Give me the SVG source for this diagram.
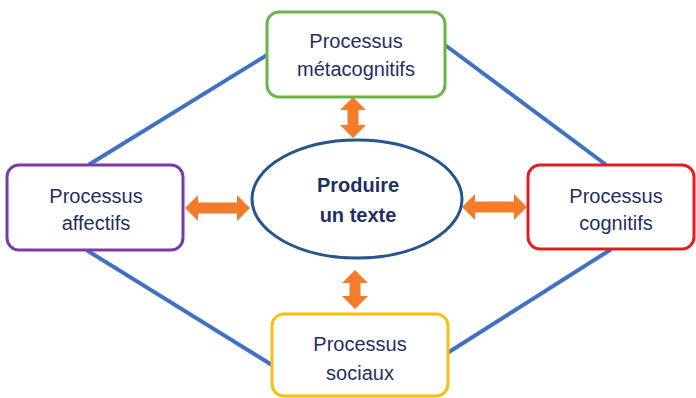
<svg xmlns="http://www.w3.org/2000/svg" width="696" height="398" viewBox="0 0 696 398">
  <style>
    .box { fill: #ffffff; stroke-width: 3; }
    .lbl { font-family: "Liberation Sans", Arial, sans-serif; font-size: 20px; fill: #1f3060; text-anchor: middle; }
    .bold { font-weight: bold; }
    .link { stroke: #3f72c4; stroke-width: 4; fill: none; stroke-linecap: round; }
    .dbl { fill: #f47b2a; }
  </style>
  <rect width="696" height="398" fill="#ffffff"/>

  <!-- connectors between the outer processes -->
  <g id="connectors">
    <line class="link" x1="90" y1="164" x2="267" y2="55"/>
    <line class="link" x1="445" y1="45" x2="605" y2="164"/>
    <line class="link" x1="88" y1="251" x2="272" y2="365"/>
    <line class="link" x1="610" y1="250" x2="449" y2="352"/>
    <!-- double-headed arrows to the centre -->
    <polygon class="dbl" points="353,97 366,110 358.5,110 358.5,125 366,125 353,138 340,125 347.5,125 347.5,110 340,110"/>
    <polygon class="dbl" points="355,270 368,283 360.5,283 360.5,296 368,296 355,309 342,296 349.5,296 349.5,283 342,283"/>
    <polygon class="dbl" points="185,208 198,195 198,202.5 237,202.5 237,195 250,208 237,221 237,213.5 198,213.5 198,221"/>
    <polygon class="dbl" points="462,207 475,194 475,201.5 514,201.5 514,194 527,207 514,220 514,212.5 475,212.5 475,220"/>
  </g>

  <g id="metacognitifs">
    <rect class="box" x="267" y="12" width="178" height="85" rx="12" stroke="#6bb547"/>
    <text class="lbl" x="356" y="48">Processus</text>
    <text class="lbl" x="356" y="76">métacognitifs</text>
  </g>

  <g id="affectifs">
    <rect class="box" x="7" y="165" width="176" height="85" rx="12" stroke="#7a3aa8"/>
    <text class="lbl" x="96" y="203">Processus</text>
    <text class="lbl" x="96" y="230">affectifs</text>
  </g>

  <g id="cognitifs">
    <rect class="box" x="528" y="165" width="166" height="84" rx="12" stroke="#e02020"/>
    <text class="lbl" x="616" y="203">Processus</text>
    <text class="lbl" x="616" y="230">cognitifs</text>
  </g>

  <g id="sociaux">
    <rect class="box" x="272" y="314" width="176" height="82" rx="12" stroke="#fbbd12"/>
    <text class="lbl" x="360" y="351">Processus</text>
    <text class="lbl" x="360" y="380">sociaux</text>
  </g>

  <g id="produire">
    <ellipse cx="357" cy="199" rx="105" ry="59" fill="#ffffff" stroke="#25548f" stroke-width="3"/>
    <text class="lbl bold" x="358" y="192">Produire</text>
    <text class="lbl bold" x="358" y="222">un texte</text>
  </g>
</svg>
